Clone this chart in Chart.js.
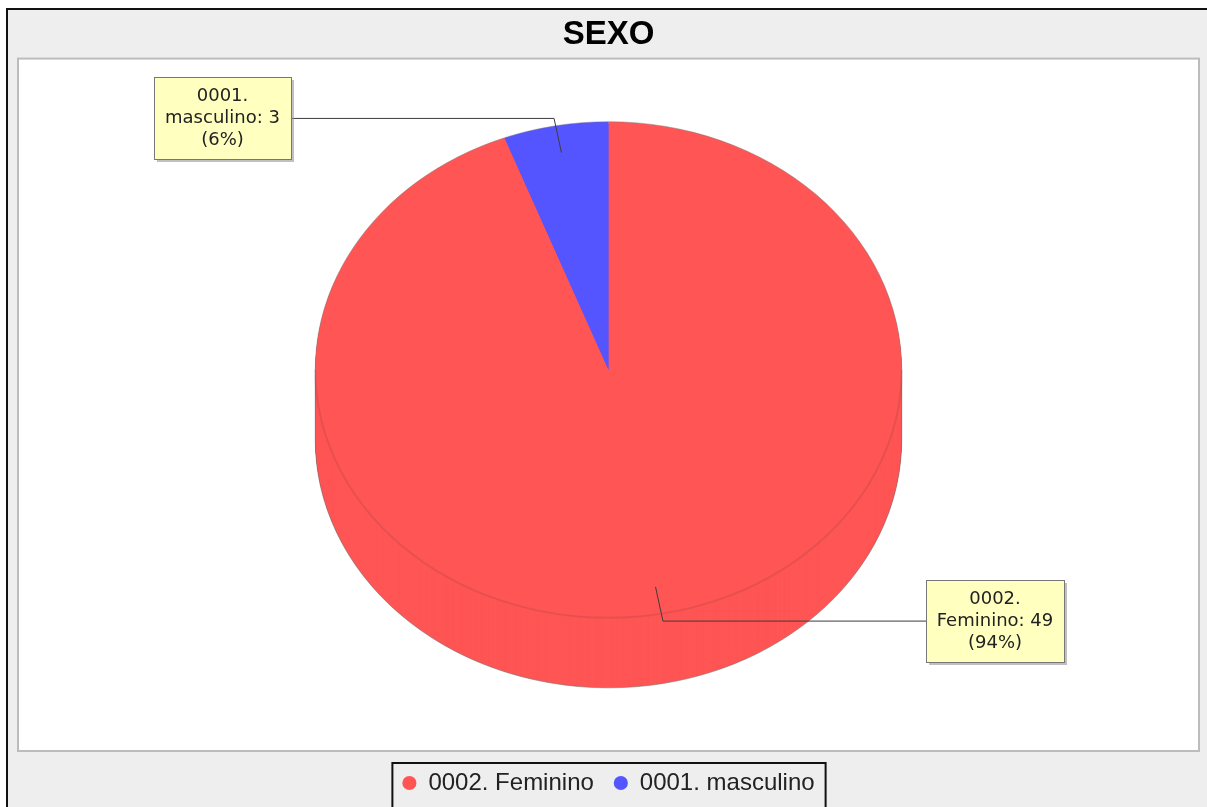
<!DOCTYPE html>
<html>
<head>
<meta charset="utf-8">
<title>SEXO</title>
<script src="https://cdn.jsdelivr.net/npm/chart.js@4.4.1/dist/chart.umd.min.js"></script>
<style>
  html, body { margin: 0; padding: 0; background: #fff; }
  canvas { display: block; }
</style>
</head>
<body>
<canvas id="pie" width="1207" height="807"></canvas>
<script>
var chartTitle = 'SEXO';
var categories = ['0002. Feminino', '0001. masculino'];
var counts = [49, 3];
var sliceColors = ['#ff5555', '#5555ff'];

// 3d look: vertical squash of the top face and height of the side wall (as share of radius)
var tilt = 0.846;
var depthRatio = 0.239;

var withTilt = function(chart, arc, shift) {
  var ctx = chart.ctx;
  var p = arc.getProps(['x', 'y', 'outerRadius'], true);
  var depth = p.outerRadius * depthRatio;
  ctx.translate(p.x, p.y - depth / 2 + (shift ? depth * shift : 0));
  ctx.scale(1, tilt);
  ctx.translate(-p.x, -p.y);
};

var backdrop = {
  id: 'backdrop',
  beforeDraw: function(chart) {
    var ctx = chart.ctx;
    var area = chart.chartArea;
    ctx.save();
    ctx.fillStyle = '#ffffff';
    ctx.fillRect(0, 0, chart.width, chart.height);
    ctx.fillStyle = '#eeeeee';
    ctx.fillRect(8, 9, chart.width - 8, chart.height - 9);
    ctx.fillStyle = '#111';
    ctx.fillRect(6, 8, chart.width - 6, 2);
    ctx.fillRect(6, 8, 2, chart.height - 8);
    ctx.fillStyle = '#ffffff';
    ctx.fillRect(area.left, area.top, area.width, area.height);
    ctx.strokeStyle = '#bcbcbc';
    ctx.lineWidth = 2;
    ctx.strokeRect(area.left, area.top, area.width, area.height);
    ctx.restore();
  }
};

var pie3d = {
  id: 'pie3d',
  beforeDatasetsDraw: function(chart) {
    var ctx = chart.ctx;
    var meta = chart.getDatasetMeta(0);
    var arc = meta.data[0];
    var p = arc.getProps(['x', 'y', 'outerRadius'], true);
    var depth = Math.round(p.outerRadius * depthRatio);
    // side wall: the same slices stacked downwards
    for (var d = depth; d > 0; d--) {
      ctx.save();
      withTilt(chart, arc, 0);
      ctx.translate(0, d / tilt);
      meta.data.forEach(function(a) { a.draw(ctx); });
      ctx.restore();
    }
    // outline of the wall
    ctx.save();
    ctx.strokeStyle = 'rgba(110,110,110,0.55)';
    ctx.lineWidth = 1;
    var cy = p.y - p.outerRadius * depthRatio / 2;
    ctx.beginPath();
    ctx.ellipse(p.x, cy + depth, p.outerRadius, p.outerRadius * tilt, 0, 0, Math.PI);
    ctx.moveTo(p.x - p.outerRadius, cy);
    ctx.lineTo(p.x - p.outerRadius, cy + depth);
    ctx.moveTo(p.x + p.outerRadius, cy);
    ctx.lineTo(p.x + p.outerRadius, cy + depth);
    ctx.stroke();
    ctx.restore();

    ctx.save();
    withTilt(chart, arc, 0);
  },
  afterDatasetsDraw: function(chart) {
    var ctx = chart.ctx;
    ctx.restore();
    var meta = chart.getDatasetMeta(0);
    var p = meta.data[0].getProps(['x', 'y', 'outerRadius'], true);
    var r = p.outerRadius;
    var cy = p.y - r * depthRatio / 2;

    ctx.save();
    ctx.strokeStyle = 'rgba(120,120,120,0.45)';
    ctx.lineWidth = 1;
    ctx.beginPath();
    ctx.ellipse(p.x, cy, r, r * tilt, 0, Math.PI, 2 * Math.PI);
    ctx.stroke();
    ctx.strokeStyle = 'rgba(120,60,60,0.18)';
    ctx.lineWidth = 2;
    ctx.beginPath();
    ctx.ellipse(p.x, cy, r, r * tilt, 0, 0, Math.PI);
    ctx.stroke();
    ctx.restore();

    var total = counts.reduce(function(s, v) { return s + v; }, 0);
    ctx.save();
    ctx.font = '18px "DejaVu Sans"';
    ctx.textAlign = 'center';
    ctx.textBaseline = 'middle';
    meta.data.forEach(function(a, i) {
      var mid = (a.startAngle + a.endAngle) / 2;
      var cos = Math.cos(mid), sin = Math.sin(mid);
      var ax = p.x + cos * r * 0.89, ay = cy + sin * r * 0.89 * tilt;
      var ex = p.x + cos * r * 1.03, ey = cy + sin * r * 1.03 * tilt;
      var name = categories[i];
      var cut = name.indexOf(' ');
      var lines = [name.slice(0, cut), name.slice(cut + 1) + ': ' + counts[i],
        '(' + Math.round(counts[i] / total * 100) + '%)'];
      var tw = Math.max.apply(null, lines.map(function(t) { return ctx.measureText(t).width; }));
      var bw = Math.round(tw + 22), bh = 82;
      var bx = cos < 0 ? Math.round(p.x - r - 24 - bw) : Math.round(p.x + r + 24);
      var by = Math.round(ey - bh / 2);
      var edge = cos < 0 ? bx + bw : bx;

      ctx.strokeStyle = '#3c3c3c';
      ctx.lineWidth = 1;
      ctx.beginPath();
      ctx.moveTo(ax, ay);
      ctx.lineTo(ex, ey);
      ctx.lineTo(edge, ey);
      ctx.stroke();

      ctx.fillStyle = 'rgba(150,150,150,0.6)';
      ctx.fillRect(bx + 3, by + 3, bw, bh);
      ctx.fillStyle = '#ffffc0';
      ctx.fillRect(bx, by, bw, bh);
      ctx.strokeStyle = '#777';
      ctx.strokeRect(bx + 0.5, by + 0.5, bw, bh);
      ctx.fillStyle = '#222';
      lines.forEach(function(t, k) {
        ctx.fillText(t, bx + bw / 2, by + bh / 2 + (k - 1) * 22);
      });
    });
    ctx.restore();
  },
  afterDraw: function(chart) {
    var boxes = chart.legend.legendHitBoxes;
    if (!boxes || !boxes.length) return;
    var first = boxes[0], last = boxes[boxes.length - 1];
    var ctx = chart.ctx;
    ctx.save();
    ctx.strokeStyle = '#111';
    ctx.lineWidth = 2;
    ctx.strokeRect(first.left - 10, first.top - 8, last.left + last.width + 11 - (first.left - 10), 60);
    ctx.restore();
  }
};

var pieChart = new Chart(document.getElementById('pie'), {
  type: 'pie',
  data: {
    labels: categories,
    datasets: [{
      data: counts,
      backgroundColor: sliceColors,
      borderWidth: 0,
      radius: '84.7%'
    }]
  },
  options: {
    responsive: false,
    animation: false,
    events: [],
    layout: { padding: { left: 18, right: 8, top: 9, bottom: 2 } },
    plugins: {
      title: {
        display: true,
        text: chartTitle,
        color: '#000',
        font: { family: '"Liberation Sans", Arial, sans-serif', size: 33, weight: 'bold' },
        padding: { top: 6, bottom: 4 }
      },
      legend: {
        position: 'bottom',
        labels: {
          usePointStyle: true,
          pointStyle: 'circle',
          boxWidth: 14,
          boxHeight: 10,
          padding: 20,
          color: '#222',
          font: { family: '"Liberation Sans", Arial, sans-serif', size: 24 }
        }
      },
      tooltip: { enabled: false }
    }
  },
  plugins: [backdrop, pie3d]
});
</script>
</body>
</html>
